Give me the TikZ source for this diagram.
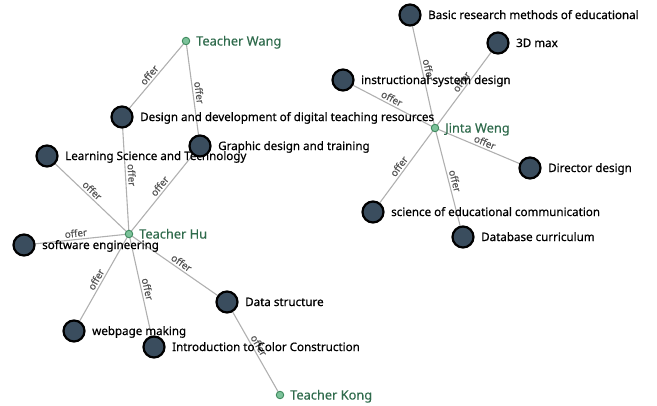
\documentclass[tikz,border=0pt]{standalone}
\usepackage{fontspec}
\setmainfont{Noto Sans}
\newfontfamily\lblfont[FakeBold=0.6]{Noto Sans}
\newfontfamily\tfont[FakeBold=0.3]{Noto Sans}
\definecolor{crs}{HTML}{3A4D5E}
\definecolor{tgreen}{HTML}{7CC29A}
\definecolor{tgreenD}{HTML}{3F8A5E}
\definecolor{tname}{HTML}{2F6B4C}
\definecolor{linkc}{HTML}{B0B0B0}
\definecolor{elabc}{HTML}{555555}
\tikzset{
  course/.style={circle, draw=black, line width=2.2pt, fill=crs, minimum size=21pt, inner sep=0pt},
  teacher/.style={circle, draw=tgreenD, line width=0.9pt, fill=tgreen, minimum size=7.5pt, inner sep=0pt},
  clabel/.style={anchor=base west, font=\lblfont\fontsize{11.6}{13}\selectfont, text=black, inner sep=0pt},
  tlabel/.style={anchor=base west, font=\tfont\fontsize{12.8}{14}\selectfont, text=tname, inner sep=0pt},
  link/.style={draw=linkc, line width=1.1pt},
  elab/.style={font=\tfont\fontsize{9.8}{11}\selectfont, text=elabc, sloped, above, inner sep=2pt}
}
\begin{document}
\begin{tikzpicture}[x=1pt,y=-1pt]
\useasboundingbox (0,0) rectangle (657,405);
% positions
\coordinate (wang) at (186,41);
\coordinate (hu) at (129,234);
\coordinate (kong) at (280,395);
\coordinate (jinta) at (435,128);
\coordinate (dd) at (122,117);
\coordinate (gd) at (200,146);
\coordinate (ls) at (47,156);
\coordinate (se) at (24,245);
\coordinate (wm) at (74,331);
\coordinate (ic) at (154,347);
\coordinate (ds) at (227,302);
\coordinate (br) at (410,15);
\coordinate (tdm) at (498,43);
\coordinate (isd) at (343,80);
\coordinate (dir) at (530,168);
\coordinate (sec) at (373,212);
\coordinate (db) at (463,237);
% links
\draw[link] (wang) -- node[elab]{offer} (dd);
\draw[link] (wang) -- node[elab]{offer} (gd);
\draw[link] (ls) -- node[elab]{offer} (hu);
\draw[link] (dd) -- node[elab]{offer} (hu);
\draw[link] (gd) -- node[elab]{offer} (hu);
\draw[link] (hu) -- node[elab]{offer} (se);
\draw[link] (hu) -- node[elab]{offer} (wm);
\draw[link] (hu) -- node[elab]{offer} (ic);
\draw[link] (hu) -- node[elab]{offer} (ds);
\draw[link] (ds) -- node[elab]{offer} (kong);
\draw[link] (jinta) -- node[elab]{offer} (br);
\draw[link] (jinta) -- node[elab]{offer} (tdm);
\draw[link] (isd) -- node[elab]{offer} (jinta);
\draw[link] (jinta) -- node[elab]{offer} (dir);
\draw[link] (jinta) -- node[elab]{offer} (sec);
\draw[link] (jinta) -- node[elab]{offer} (db);
% nodes
\node[teacher] (nwang) at (wang) {};
\node[tlabel] (lwang) at ([shift={(10,4.5)}]wang) {Teacher Wang};
\node[course] (ndd) at (dd) {};
\node[clabel] (ldd) at ([shift={(18,4)}]dd) {Design and development of digital teaching resources};
\node[course] (nls) at (ls) {};
\node[clabel] (lls) at ([shift={(18,4)}]ls) {Learning Science and Technology};
\node[course] (ngd) at (gd) {};
\node[clabel] (lgd) at ([shift={(18,4)}]gd) {Graphic design and training};
\node[teacher] (nhu) at (hu) {};
\node[tlabel] (lhu) at ([shift={(10,4.5)}]hu) {Teacher Hu};
\node[course] (nse) at (se) {};
\node[clabel] (lse) at ([shift={(18,4)}]se) {software engineering};
\node[course] (nwm) at (wm) {};
\node[clabel] (lwm) at ([shift={(18,4)}]wm) {webpage making};
\node[course] (nic) at (ic) {};
\node[clabel] (lic) at ([shift={(18,4)}]ic) {Introduction to Color Construction};
\node[course] (nds) at (ds) {};
\node[clabel] (lds) at ([shift={(18,4)}]ds) {Data structure};
\node[teacher] (nkong) at (kong) {};
\node[tlabel] (lkong) at ([shift={(10,4.5)}]kong) {Teacher Kong};
\node[course] (nbr) at (br) {};
\node[clabel] (lbr) at ([shift={(18,4)}]br) {Basic research methods of educational};
\node[course] (ntdm) at (tdm) {};
\node[clabel] (ltdm) at ([shift={(18,4)}]tdm) {3D max};
\node[course] (nisd) at (isd) {};
\node[clabel] (lisd) at ([shift={(18,4)}]isd) {instructional system design};
\node[teacher] (njinta) at (jinta) {};
\node[tlabel] (ljinta) at ([shift={(10,4.5)}]jinta) {Jinta Weng};
\node[course] (ndir) at (dir) {};
\node[clabel] (ldir) at ([shift={(18,4)}]dir) {Director design};
\node[course] (nsec) at (sec) {};
\node[clabel] (lsec) at ([shift={(18,4)}]sec) {science of educational communication};
\node[course] (ndb) at (db) {};
\node[clabel] (ldb) at ([shift={(18,4)}]db) {Database curriculum};
\end{tikzpicture}
\end{document}
